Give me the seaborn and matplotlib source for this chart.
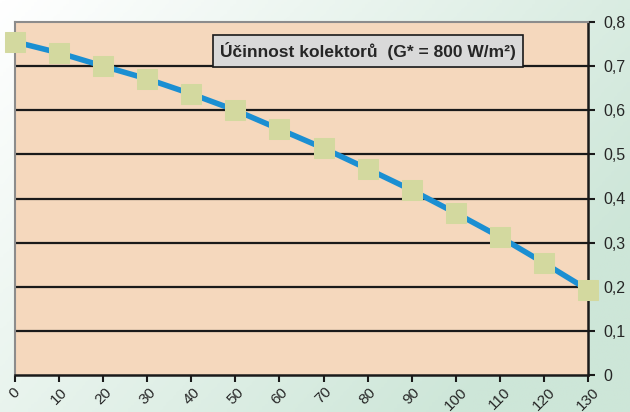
import numpy as np
import pandas as pd
import seaborn as sns
import matplotlib.pyplot as plt
from matplotlib.colors import LinearSegmentedColormap

# data
temp_diff = [0, 10, 20, 30, 40, 50, 60, 70, 80, 90, 100, 110, 120, 130]
efficiency = [0.755, 0.730, 0.700, 0.671, 0.637, 0.600, 0.557, 0.514,
              0.467, 0.419, 0.367, 0.313, 0.254, 0.193]
y_ticks = [0, 0.1, 0.2, 0.3, 0.4, 0.5, 0.6, 0.7, 0.8]
y_labels = ["0", "0,1", "0,2", "0,3", "0,4", "0,5", "0,6", "0,7", "0,8"]
title_text = "Účinnost kolektorů  (G* = 800 W/m²)"

df = pd.DataFrame({"dt": temp_diff, "eta": efficiency})

sns.set_style("white")
plt.rcParams["font.family"] = ["Liberation Sans", "DejaVu Sans"]

fig = plt.figure(figsize=(6.3, 4.12), dpi=100)

# background gradient: white top-left -> pale green right/bottom
bg = fig.add_axes([0, 0, 1, 1], zorder=-10)
gx, gy = np.meshgrid(np.linspace(0, 1, 200), np.linspace(0, 1, 200))
grad = np.clip(0.75 * gx + 0.45 * gy, 0, 1)
cmap_bg = LinearSegmentedColormap.from_list("bg", ["#ffffff", "#cde6d8"])
bg.imshow(grad, cmap=cmap_bg, aspect="auto", extent=[0, 1, 0, 1], origin="upper")
bg.axis("off")

ax = fig.add_axes([15 / 630, 37 / 412, 573 / 630, 353 / 412])
ax.set_facecolor("#f5d8bd")

for t in y_ticks[1:-1]:
    ax.axhline(t, color="#1a1a1a", lw=1.6, zorder=1)

sns.lineplot(data=df, x="dt", y="eta", ax=ax, color="#1b8fd2", lw=4,
             marker="s", markersize=14, markerfacecolor="#d3d99f",
             markeredgecolor="#d3d99f", zorder=3, clip_on=False)

ax.set_xlim(0, 130)
ax.set_ylim(0, 0.8)
ax.set_xticks(temp_diff)
ax.set_xticklabels([str(v) for v in temp_diff], rotation=45, ha="center",
                   va="top", fontsize=11)
ax.yaxis.tick_right()
ax.set_yticks(y_ticks)
ax.set_yticklabels(y_labels, fontsize=11.5)
ax.set_xlabel("")
ax.set_ylabel("")
ax.tick_params(axis="both", direction="out", length=5, width=1.5, color="#1a1a1a",
               bottom=True, right=True, left=False, pad=6)
ax.tick_params(axis="x", pad=2)

for side in ["left", "top"]:
    ax.spines[side].set_color("#8c8c8c")
    ax.spines[side].set_linewidth(1.5)
for side in ["bottom", "right"]:
    ax.spines[side].set_color("#1a1a1a")
    ax.spines[side].set_linewidth(1.8)

ax.text(0.358, 0.917, title_text, transform=ax.transAxes, fontsize=12.5,
        fontweight="bold", va="center", ha="left",
        bbox=dict(boxstyle="square,pad=0.4", facecolor="#d9d9d9",
                  edgecolor="#1a1a1a", lw=1.2), zorder=5)

fig.savefig("out.png", dpi=100)
